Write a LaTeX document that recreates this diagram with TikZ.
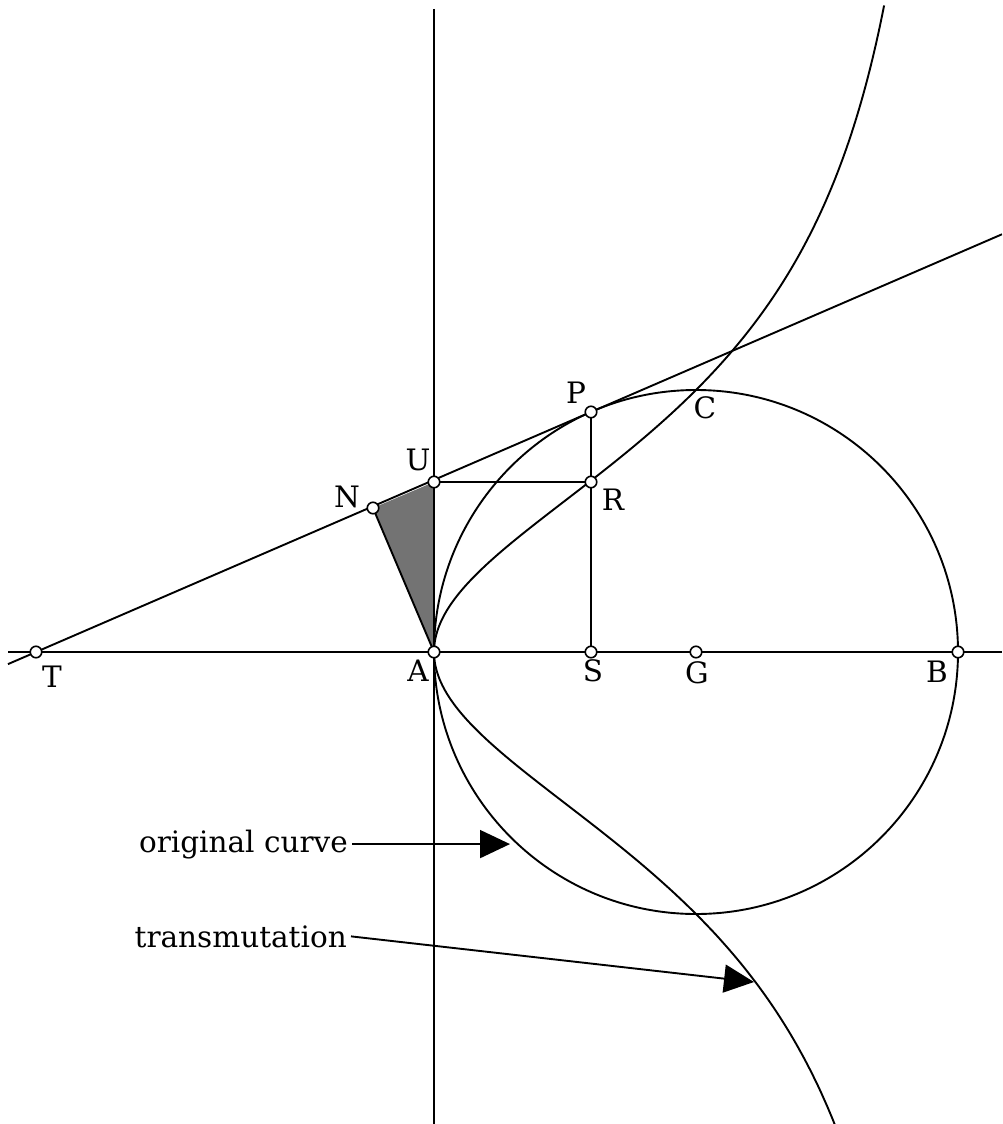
\documentclass[tikz,border=0pt]{standalone}
\usepackage{fontspec}
\setmainfont{DejaVu Serif}
\usetikzlibrary{calc,arrows.meta}
\begin{document}
\begin{tikzpicture}[x=1pt,y=-1pt,
  every node/.style={font=\fontsize{29.5}{35}\selectfont},
  geo/.style={line width=1.9pt},
  pt/.style={circle,draw,fill=white,line width=1.6pt,minimum size=11.5pt,inner sep=0pt},
  lab/.style={inner sep=0pt},
  callout/.style={line width=1.9pt,-{Triangle[length=30pt,width=28pt]}}]
\useasboundingbox (0,0) rectangle (1002,1124);
\clip (0,0) rectangle (1002,1124);
% points
\coordinate (A) at (434,652);
\coordinate (G) at (696,652);
\coordinate (B) at (958,652);
\coordinate (S) at (591,652);
\coordinate (P) at (591,412);
\coordinate (R) at (591,482);
\coordinate (U) at (434,482);
\coordinate (N) at (373,508);
\coordinate (T) at (36,652);
\coordinate (Xl) at (8,652);
\coordinate (Xr) at (1002,652);
\coordinate (Yt) at (434,9);
\coordinate (Yb) at (434,1124);
% shaded triangle
\fill[black!55] (A) -- (N) -- (U) -- cycle;
% axes
\draw[geo] (Xl) -- (Xr);
\draw[geo] (Yt) -- (Yb);
% tangent line through T and P
\draw[geo] ($(T)!-0.0505!(P)$) -- ($(T)!1.7405!(P)$);
% construction lines
\draw[geo] (U) -- (R);
\draw[geo] (P) -- (S);
\draw[geo] (A) -- (N);
% original curve (circle)
\draw[geo] (G) circle[radius=262pt];
% transmutation curve
\draw[geo,domain=-1.81:2.47,samples=240,smooth,variable=\s]
  plot ({434+524*\s*\s/(1+\s*\s)},{652-262*\s});
% point markers
\foreach \p in {A,G,B,S,P,R,U,N,T} \node[pt] at (\p) {};
% labels
\node[lab] (lT) at (52,677) {T};
\node[lab] (lN) at (347,497) {N};
\node[lab] (lU) at (418,460) {U};
\node[lab] (lP) at (576,393) {P};
\node[lab] (lR) at (613,500) {R};
\node[lab] (lC) at (705,408) {C};
\node[lab] (lA) at (418,671) {A};
\node[lab] (lS) at (593,671) {S};
\node[lab] (lG) at (697,673) {G};
\node[lab] (lB) at (937,672) {B};
% callouts
\node[anchor=base east,inner sep=4pt] (oc) at (352,852) {original curve};
\node[anchor=base east,inner sep=4pt] (tm) at (351,947) {transmutation};
\coordinate (ocTip) at (510,842);
\coordinate (tmTip) at (754,982);
\draw[callout] (oc.east) -- (oc.east -| ocTip);
\draw[callout] (tm.east) -- (tmTip);
\end{tikzpicture}
\end{document}
